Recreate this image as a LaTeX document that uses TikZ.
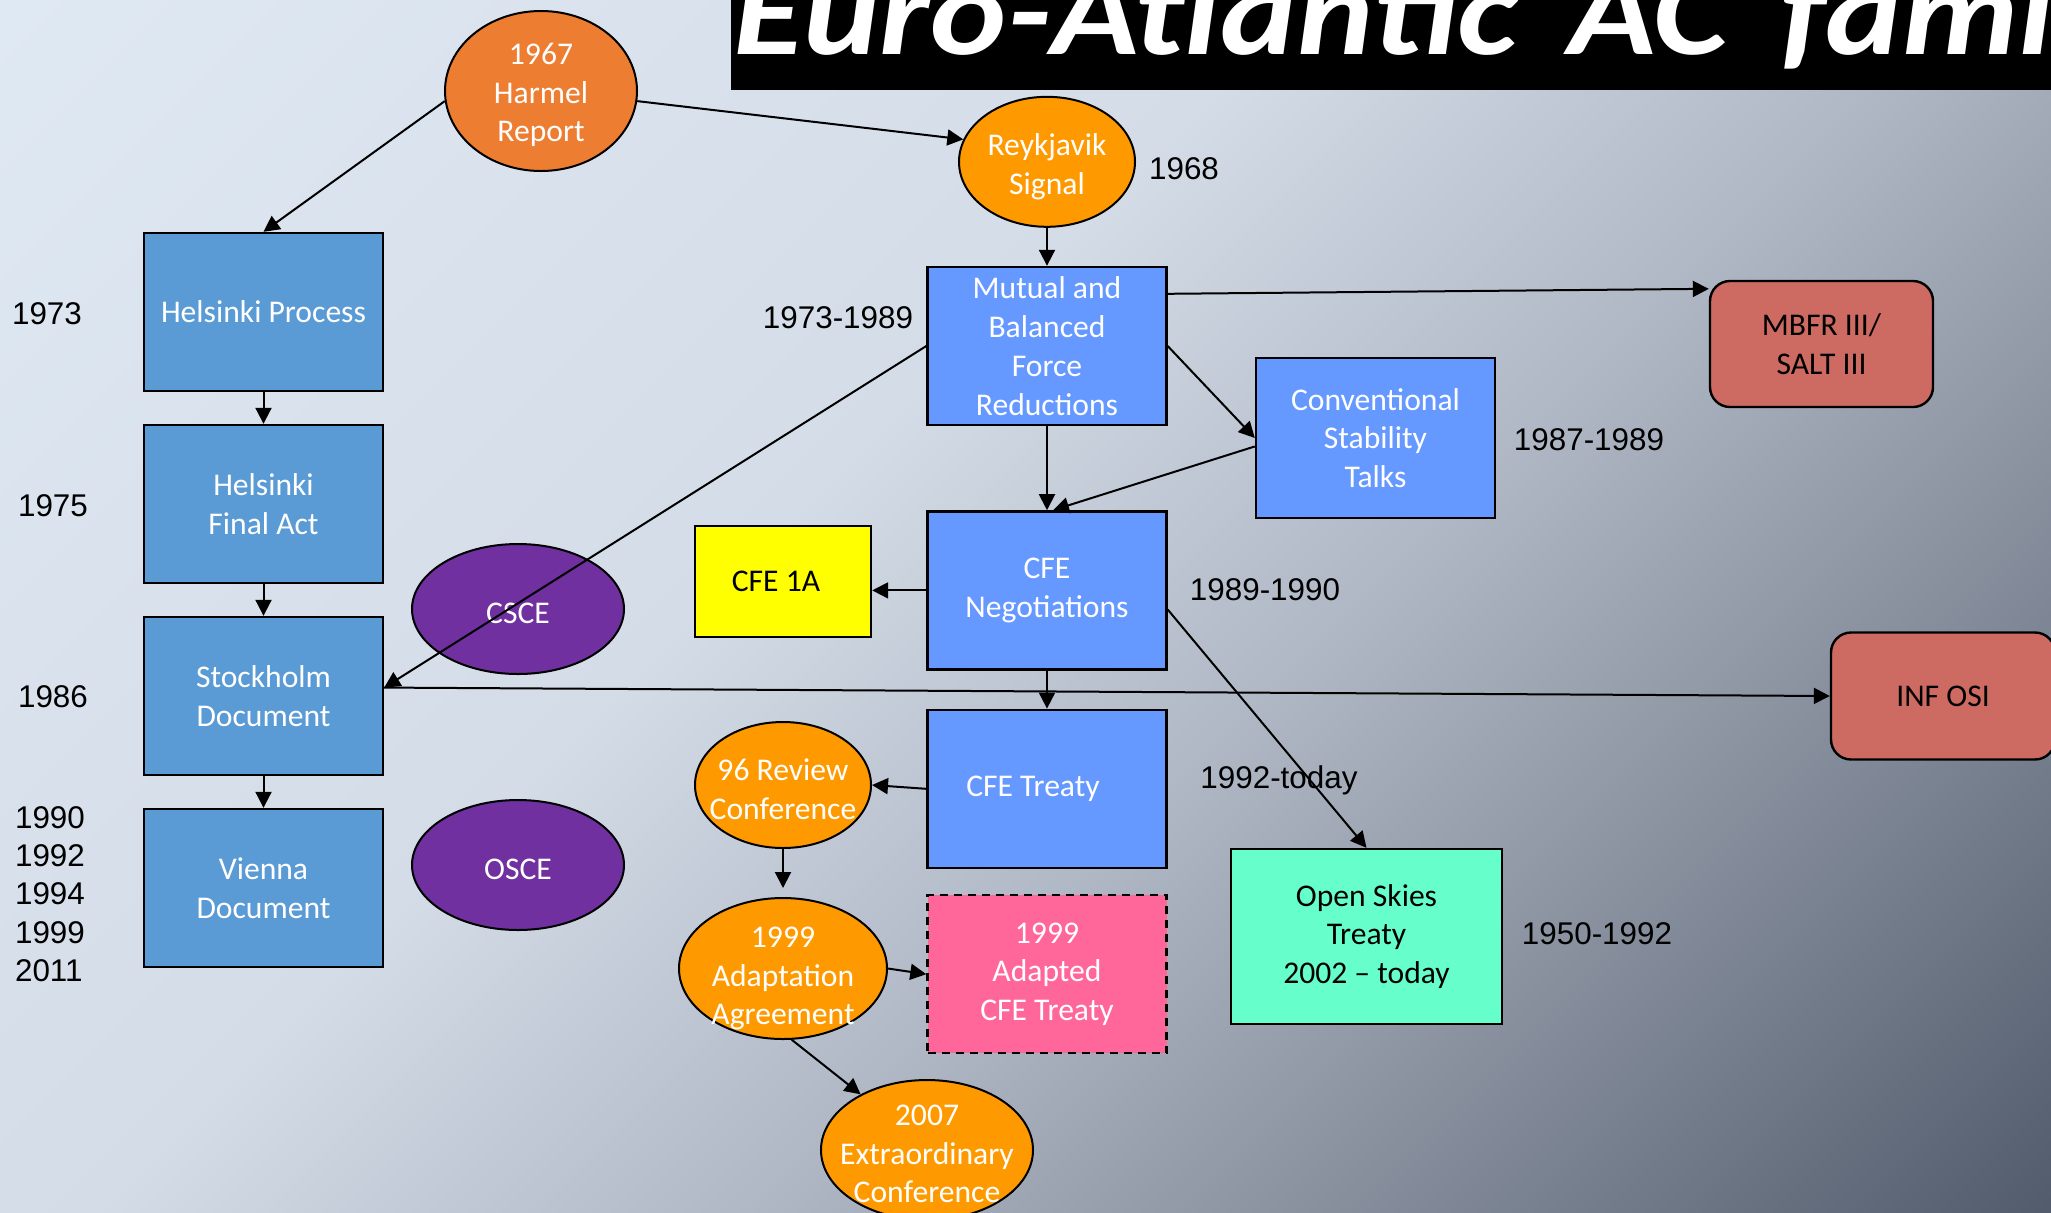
\documentclass[tikz,border=0pt]{standalone}
\usepackage{fontspec}
\setmainfont{Carlito}
\newfontfamily\arialfont{Liberation Sans}
\usepackage{graphicx}
\usepackage{tikz}
\usetikzlibrary{shapes.geometric, arrows.meta, positioning, calc}

\definecolor{bgA}{RGB}{223,233,243}
\definecolor{bgB}{RGB}{212,220,231}
\definecolor{bgC}{RGB}{176,184,198}
\definecolor{bgD}{RGB}{142,150,164}
\definecolor{bgE}{RGB}{82,92,108}
\definecolor{helsblue}{RGB}{91,155,213}
\definecolor{mbfrblue}{RGB}{102,153,255}
\definecolor{harmelorange}{RGB}{237,125,49}
\definecolor{conforange}{RGB}{255,153,0}
\definecolor{oscepurple}{RGB}{112,48,160}
\definecolor{saltred}{RGB}{205,106,98}
\definecolor{cfeyellow}{RGB}{255,255,0}
\definecolor{adaptpink}{RGB}{255,102,153}
\definecolor{skiesmint}{RGB}{102,255,204}

\pgfdeclarehorizontalshading{slidebg}{100bp}{color(0bp)=(bgA); color(14.64bp)=(bgA); color(42.9bp)=(bgB); color(57.1bp)=(bgC); color(67.7bp)=(bgD); color(85.36bp)=(bgE); color(100bp)=(bgE)}

\newcommand{\boxfont}{\fontsize{15.8pt}{19.4pt}\selectfont}
\newcommand{\yearfont}{\arialfont\fontsize{15.7pt}{19.15pt}\selectfont}
\newcommand{\titlefont}{\bfseries\itshape\fontsize{63pt}{70pt}\selectfont}

\begin{document}
\begin{tikzpicture}[x=0.5pt, y=-0.5pt,
        box/.style={rectangle, draw, line width=1.2pt, minimum width=119.5pt, minimum height=79pt, inner sep=1pt, align=center, text=white, font=\boxfont},
        oval/.style={ellipse, draw, line width=1pt, inner sep=0pt},
        ovaltext/.style={align=center, text=white, font=\boxfont, yshift=-2pt},
        tag/.style={rectangle, rounded corners=10pt, draw, line width=1.2pt, fill=saltred, align=center, font=\boxfont},
        year/.style={font=\yearfont, align=left, inner sep=0pt},
        arrow/.style={-{Triangle[length=8pt,width=8pt]}, line width=1pt},
        node distance=15.8pt and 28pt
    ]
        \useasboundingbox (0,0) rectangle (2051,1212);
        \clip (0,0) rectangle (2051,1212);
        \shade[shading=slidebg, shading angle=-45] (0,0) rectangle (2051,1212);

        \fill[black] (731,0) rectangle (2051,90);
        \node[anchor=base west, inner sep=0pt, text=white, font=\titlefont] (title) at (733,54) {\scalebox{1.15}[1]{\spaceskip=0.36em\relax Euro-Atlantic AC fami}};

        \node[oval, fill=harmelorange, minimum width=96pt, minimum height=80pt, label={[ovaltext]center:1967\\Harmel\\Report}] (harmel) at (541,91) {};

        \node[box, fill=helsblue] (hproc) at (263.5,312) {Helsinki Process};
        \node[box, fill=helsblue, below=of hproc] (hfinal) {Helsinki\\Final Act};
        \node[box, fill=helsblue, below=of hfinal] (stock) {Stockholm\\Document};
        \node[box, fill=helsblue, below=of stock] (vienna) {Vienna\\Document};

        \node[oval, fill=oscepurple, minimum width=106pt, minimum height=65pt, label={[ovaltext]center:CSCE}] (csce) at (518,609) {};
        \node[oval, fill=oscepurple, minimum width=106pt, minimum height=65pt, label={[ovaltext]center:OSCE}] (osce) at (518,865) {};

        \node[box, fill=mbfrblue] (mbfr) at (1047,346) {Mutual and\\Balanced\\Force\\Reductions};
        \node[oval, fill=conforange, minimum width=88pt, minimum height=65pt, above=19pt of mbfr, label={[ovaltext, yshift=-0.5pt]center:Reykjavik\\Signal}] (reyk) {};
        \node[box, fill=mbfrblue, below=42pt of mbfr] (cfeneg) {CFE\\Negotiations};
        \node[box, fill=mbfrblue, below=19pt of cfeneg] (cfetreaty) {CFE Treaty\hspace*{14pt}};
        \node[box, fill=adaptpink, dash pattern=on 4pt off 3pt, below=12.5pt of cfetreaty] (adapted) {1999\\Adapted\\CFE Treaty};

        \node[box, fill=mbfrblue, minimum height=80pt] (cst) at (1375.5,438) {Conventional\\Stability\\Talks};
        \node[tag, minimum width=111.5pt, minimum height=63pt] (salt) at (1821.5,344) {MBFR III/\\SALT III};
        \node[tag, minimum width=112pt, minimum height=63.5pt] (inf) at (1943,696) {INF OSI};
        \node[box, fill=cfeyellow, text=black, minimum width=88pt, minimum height=55.5pt] (cfeonea) at (783,581.5) {CFE 1A\hspace*{7pt}};
        \node[box, fill=skiesmint, text=black, minimum width=135.5pt, minimum height=87.5pt] (skies) at (1366.5,936.5) {Open Skies\\Treaty\\2002 -- today};

        \node[oval, fill=conforange, minimum width=88pt, minimum height=63pt, label={[ovaltext]center:96 Review\\Conference}] (review) at (783,785) {};
        \node[oval, fill=conforange, minimum width=104pt, minimum height=70.5pt, label={[ovaltext, yshift=-3pt]center:1999\\Adaptation\\Agreement}] (adapt) at (783,968.5) {};
        \node[oval, fill=conforange, minimum width=106pt, minimum height=70pt, label={[ovaltext]center:2007\\Extraordinary\\Conference}] (extra) at (927,1150) {};

        \node[year] (yhproc) at (47,314) {1973};
        \node[year] (yhfinal) at (53,506) {1975};
        \node[year] (ystock) at (53,697) {1986};
        \node[year] (yvienna) at (50,894) {1990\\1992\\1994\\1999\\2011};
        \node[year] (yreyk) at (1184,169) {1968};
        \node[year] (ymbfr) at (838,318) {1973-1989};
        \node[year] (ycst) at (1589,440) {1987-1989};
        \node[year] (ycfeneg) at (1265,590) {1989-1990};
        \node[year] (ycfetreaty) at (1279,780) {1992-today};
        \node[year] (yskies) at (1597,934) {1950-1992};

        \draw[arrow] (harmel.186) -- (hproc.north);
        \draw[arrow] (harmel.354) -- (reyk.165);
        \draw[arrow] (reyk.south) -- (mbfr.north);
        \draw[arrow] (hproc.south) -- (hfinal.north);
        \draw[arrow] (hfinal.south) -- (stock.north);
        \draw[arrow] (stock.south) -- (vienna.north);
        \draw[arrow] (mbfr.west) -- (stock.4);
        \draw[arrow] (stock.4) -- (inf.west);
        \draw[arrow] ([yshift=-14pt]mbfr.north east) -- ([yshift=-4.5pt]salt.north west);
        \draw[arrow] (mbfr.east) -- (cst.west);
        \draw[arrow] (cst.184) -- ([xshift=3pt]cfeneg.north);
        \draw[arrow] (mbfr.south) -- (cfeneg.north);
        \draw[arrow] (cfeneg.west) -- (cfeneg.west -| cfeonea.east);
        \draw[arrow] (cfeneg.south) -- (cfetreaty.north);
        \draw[arrow] (cfeneg.-9) -- (skies.north);
        \draw[arrow] (cfetreaty.west) -- (review.east);
        \draw[arrow, shorten >=4.5pt] (review.south) -- (adapt.north);
        \draw[arrow] (adapt.east) -- (adapted.west);
        \draw[arrow] (adapt.-83) -- (extra.140);
    \end{tikzpicture}
\end{document}
